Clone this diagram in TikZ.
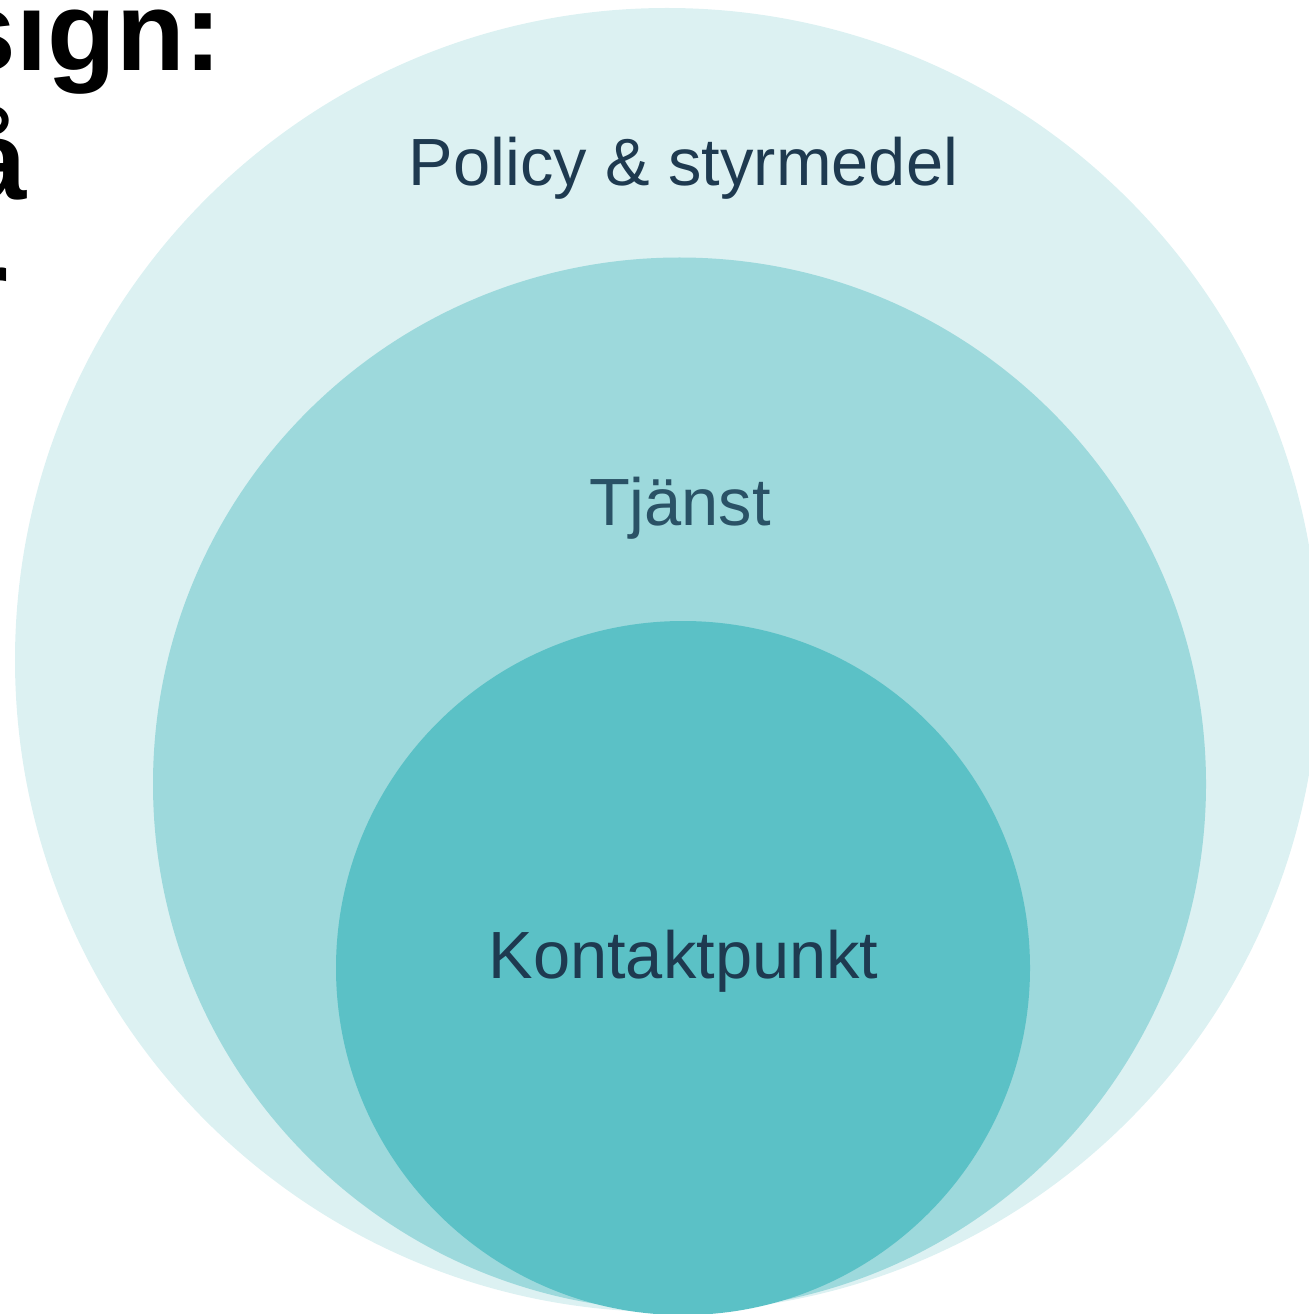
\documentclass[tikz,border=0pt]{standalone}
\usepackage{fontspec}
\setmainfont{Liberation Sans}
\definecolor{ringouter}{HTML}{DCF1F2}
\definecolor{ringmid}{HTML}{9DD9DC}
\definecolor{ringinner}{HTML}{5BC1C6}
\definecolor{ringtextdark}{HTML}{1E3A50}
\definecolor{ringtextmid}{HTML}{2A5266}
\begin{document}
\begin{tikzpicture}[
  ringtext/.style={font=\fontsize{19}{23}\selectfont, anchor=base, text=ringtextdark},
  titletext/.style={font=\fontsize{32}{38}\selectfont\bfseries, anchor=base east, inner sep=0pt}
]
  \useasboundingbox (0,0) rectangle (13.09,-13.14);
  % Draw circles
  \fill[ringouter] (6.67,-6.60) circle (6.52);
  \fill[ringmid] (6.795,-7.84) circle (5.265);
  \fill[ringinner] (6.83,-9.68) circle (3.47);

  % Labels
  \node[ringtext] (policy) at (6.835,-1.86) {Policy \& styrmedel};
  \node[ringtext, text=ringtextmid] (service) at (6.80,-5.25) {Tjänst};
  \node[ringtext] (contact) at (6.835,-9.78) {Kontaktpunkt};

  % Title, cut off at the left edge
  \node[titletext] (title1) at (2.23,-0.71) {sign:};
  \node[titletext] (title2) at (0.275,-2.00) {å};
  \node[titletext] (title3) at (0.09,-3.29) {r};
\end{tikzpicture}
\end{document}
